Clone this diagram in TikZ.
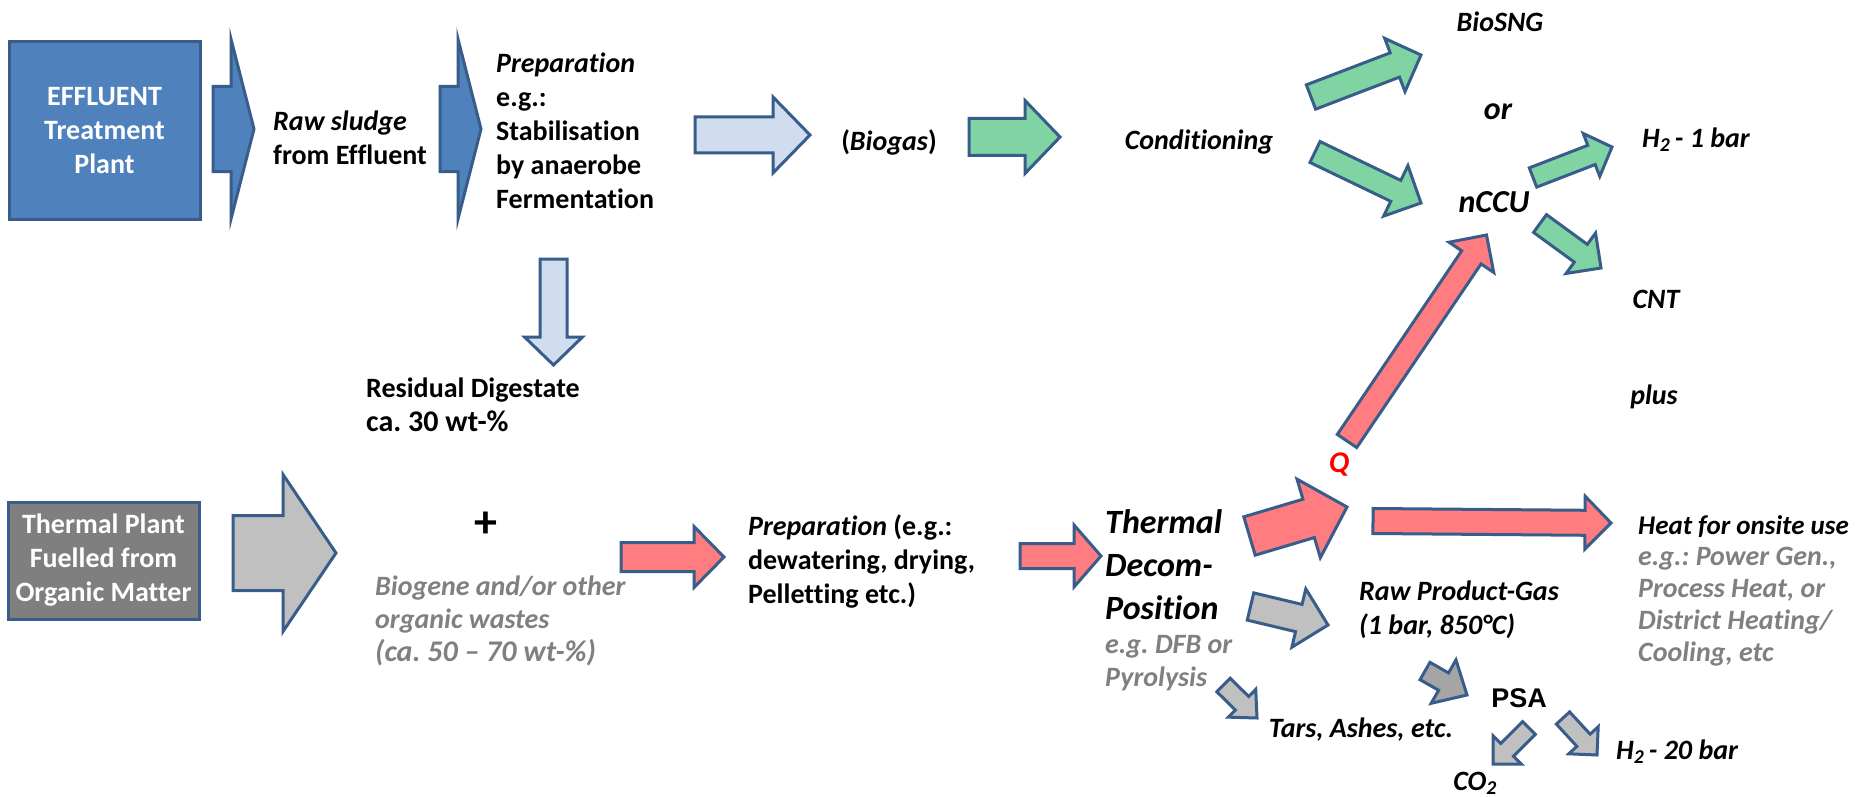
\documentclass[tikz,border=0pt]{standalone}
\usepackage{fontspec}
\setmainfont{Carlito}[Ligatures=NoCommon]
\newfontfamily\psafont{Liberation Sans}
\usetikzlibrary{calc}
\frenchspacing
\definecolor{effblue}{RGB}{79,129,189}
\definecolor{edgeblue}{RGB}{56,93,138}
\definecolor{paleblue}{RGB}{208,221,238}
\definecolor{flowgreen}{RGB}{128,212,163}
\definecolor{heatred}{RGB}{255,124,128}
\definecolor{lightgrey}{RGB}{192,192,192}
\definecolor{midgrey}{RGB}{165,165,165}
\definecolor{plantgrey}{RGB}{127,127,127}
\definecolor{notegrey}{RGB}{128,128,128}

% block arrow: fill, tail, tip, shaft half width, head half width, head length
\newcommand{\blockarrow}[6]{%
  \coordinate (hb) at ($(#3)!#6!(#2)$);
  \draw[blockline, fill=#1] ($(#2)!#4!90:(#3)$) -- ($(hb)!#4!90:(#3)$)
    -- ($(hb)!#5!90:(#3)$) -- (#3) -- ($(hb)!#5!-90:(#3)$)
    -- ($(hb)!#4!-90:(#3)$) -- ($(#2)!#4!-90:(#3)$) -- cycle;}

\begin{document}
\begin{tikzpicture}[x=1pt, y=-1pt,
    blockline/.style={draw=edgeblue, line width=3pt, line join=miter},
    plantbox/.style={rectangle, draw=edgeblue, line width=3pt, text=white, align=center, inner sep=0pt, font=\fontsize{28}{34}\selectfont\bfseries},
    txt/.style={inner sep=0pt, align=left, font=\fontsize{28}{34}\selectfont\bfseries},
    it/.style={txt, font=\fontsize{28}{34}\selectfont\bfseries\itshape},
    big/.style={txt, font=\fontsize{32}{38}\selectfont\bfseries\itshape},
    note/.style={txt, text=notegrey, font=\fontsize{28}{33}\selectfont\bfseries\itshape}
]
    \path[use as bounding box, fill=white] (0,0) rectangle (1858,797);

    % upper line: effluent treatment
    \node[plantbox, fill=effblue, minimum width=191pt, minimum height=177pt] (effluent) at (104.5,130.5) {EFFLUENT\\Treatment\\Plant};
    \node[txt, anchor=west] (sludge) at (273,138) {\textit{Raw sludge}\\from Effluent};
    \node[txt, anchor=west] (stabil) at (496,131) {\textit{Preparation}\\e.g.:\\Stabilisation\\by anaerobe\\Fermentation};
    \node[txt] (biogas) at (889,142) {(\textit{Biogas})};
    \node[it] (cond) at (1199,142) {Conditioning};
    \node[it] (biosng) at (1500,22) {BioSNG};
    \node[big] (ortxt) at (1498,112) {or};
    \node[big] (nccu) at (1494,202) {nCCU};
    \node[it] (hlow) at (1696,140) {H\textsubscript{2}\,- 1 bar};
    \node[it] (cnt) at (1656,299) {CNT};
    \node[it] (plus) at (1654,397) {plus};
    \node[txt, anchor=west] (digestate) at (366,405) {Residual Digestate\\{\fontsize{30}{36}\selectfont ca. 30 wt-\%}};

    % lower line: thermal plant
    \node[plantbox, fill=plantgrey, minimum width=191pt, minimum height=117pt] (thermalplant) at (103.5,560.5) {Thermal Plant\\Fuelled from\\Organic Matter};
    \node[txt, font=\fontsize{46}{46}\selectfont\bfseries] (plussign) at (486,525) {+};
    \node[note, anchor=west] (biogene) at (375,621) {Biogene and/or other\\organic wastes\\{\fontsize{30}{36}\selectfont(ca. 50 -- 70 wt-\%)}};
    \node[txt, anchor=west] (pellet) at (748,561.5) {\textit{Preparation} (e.g.:\\dewatering, drying,\\Pelletting etc.)};
    \node[txt, anchor=west, font=\fontsize{34}{43}\selectfont\bfseries\itshape] (decomp) at (1105,565) {Thermal\\Decom-\\Position};
    \node[note, anchor=west] (dfb) at (1105,663.5) {e.g. DFB or\\Pyrolysis};
    \node[txt, text=red, font=\fontsize{30}{36}\selectfont\bfseries\itshape] (q) at (1339,465) {Q};
    \node[it, anchor=west, font=\fontsize{27}{34}\selectfont\bfseries\itshape] (heat) at (1638,527) {Heat for onsite use};
    \node[note, anchor=west, font=\fontsize{28}{32}\selectfont\bfseries\itshape] (heatuse) at (1638,607) {e.g.: Power Gen.,\\Process Heat, or\\District Heating/\\Cooling, etc};
    \node[it, anchor=west] (rawgas) at (1359,610) {Raw Product-Gas\\(1 bar, 850°C)};
    \node[it] (tars) at (1361,730) {Tars, Ashes, etc.};
    \node[txt, font=\fontsize{27}{32}\selectfont\psafont\bfseries] (psa) at (1519,698) {PSA};
    \node[it] (co2) at (1475,783) {CO\textsubscript{2}};
    \node[it] (hhigh) at (1677,752) {H\textsubscript{2}\,- 20 bar};

    % arrow ends
    \coordinate (effout) at (213,129);   \coordinate (sludgein) at (254,129);
    \coordinate (sludgeout) at (440,129); \coordinate (stabilin) at (481,129);
    \coordinate (stabilout) at (695,135); \coordinate (biogasin) at (810,135);
    \coordinate (biogasout) at (969,137); \coordinate (condin) at (1060,137);
    \coordinate (condup) at (1311,97);    \coordinate (biosngin) at (1421,55);
    \coordinate (conddown) at (1315,152); \coordinate (nccuin) at (1421,203);
    \coordinate (nccuup) at (1533,177.5); \coordinate (hlowin) at (1612,147);
    \coordinate (nccudown) at (1540,223.5); \coordinate (cntin) at (1601,268);
    \coordinate (qup) at (1347,441);      \coordinate (nccubottom) at (1486.5,235);
    \coordinate (stabildown) at (553.5,259); \coordinate (digestatein) at (553.5,365);
    \coordinate (plantout) at (233,553);  \coordinate (plusin) at (336,553);
    \coordinate (mixout) at (621,557);    \coordinate (pelletin) at (724,557);
    \coordinate (pelletout) at (1020,556); \coordinate (decompin) at (1101,556);
    \coordinate (decompup) at (1249.5,536); \coordinate (qin) at (1347,507);
    \coordinate (qright) at (1373,521);   \coordinate (heatin) at (1611,523);
    \coordinate (decompright) at (1250.5,606.5); \coordinate (rawgasin) at (1328,625);
    \coordinate (dfbout) at (1223.5,685); \coordinate (tarsin) at (1257,718);
    \coordinate (rawgasout) at (1425,671); \coordinate (psain) at (1467,695);
    \coordinate (psaleft) at (1529,728);  \coordinate (co2in) at (1493,764);
    \coordinate (psaright) at (1563,718); \coordinate (hhighin) at (1597,755);

    \blockarrow{effblue}{effout}{sludgein}{42.5pt}{90pt}{23pt}
    \blockarrow{effblue}{sludgeout}{stabilin}{42.5pt}{90pt}{23pt}
    \blockarrow{paleblue}{stabilout}{biogasin}{18pt}{38pt}{37pt}
    \blockarrow{flowgreen}{biogasout}{condin}{18.5pt}{36.5pt}{35pt}
    \blockarrow{flowgreen}{condup}{biosngin}{13pt}{28.5pt}{28pt}
    \blockarrow{flowgreen}{conddown}{nccuin}{11.6pt}{28pt}{28pt}
    \blockarrow{flowgreen}{nccuup}{hlowin}{10.3pt}{23pt}{22pt}
    \blockarrow{flowgreen}{nccudown}{cntin}{11pt}{25pt}{25pt}
    \blockarrow{heatred}{qup}{nccubottom}{11.7pt}{27pt}{27pt}
    \blockarrow{paleblue}{stabildown}{digestatein}{13.5pt}{29pt}{28pt}
    \blockarrow{lightgrey}{plantout}{plusin}{37.5pt}{78.5pt}{53pt}
    \blockarrow{heatred}{mixout}{pelletin}{14.5pt}{30.5pt}{30pt}
    \blockarrow{heatred}{pelletout}{decompin}{12.5pt}{31pt}{27pt}
    \blockarrow{heatred}{decompup}{qin}{20pt}{41pt}{40pt}
    \blockarrow{heatred}{qright}{heatin}{12.5pt}{26.5pt}{26pt}
    \blockarrow{lightgrey}{decompright}{rawgasin}{14pt}{30pt}{30pt}
    \blockarrow{lightgrey}{dfbout}{tarsin}{9.5pt}{19.5pt}{21pt}
    \blockarrow{midgrey}{rawgasout}{psain}{10pt}{25pt}{27pt}
    \blockarrow{lightgrey}{psaleft}{co2in}{9pt}{20pt}{20pt}
    \blockarrow{lightgrey}{psaright}{hhighin}{9pt}{20pt}{20pt}
\end{tikzpicture}
\end{document}
